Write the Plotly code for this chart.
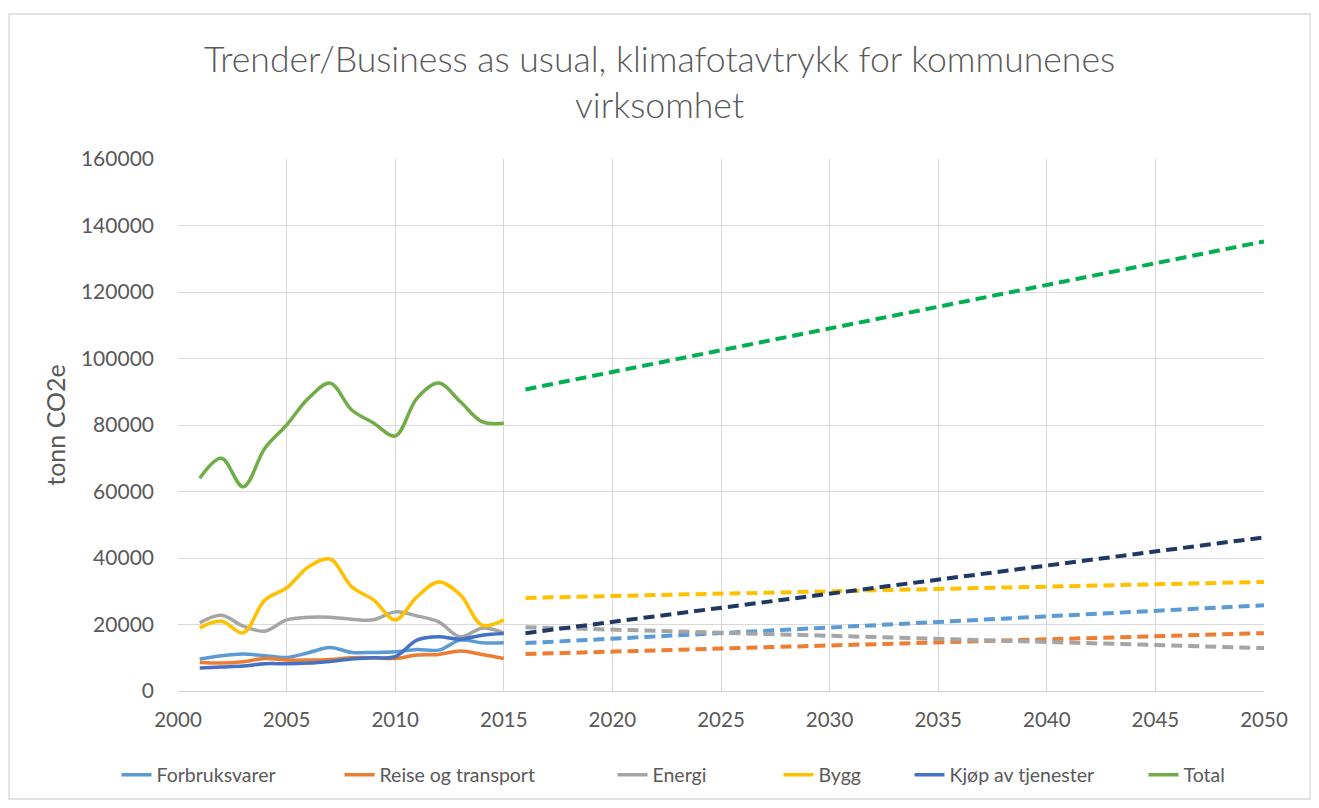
import plotly.graph_objects as go

years = list(range(2001, 2016))
forbruksvarer = [9600, 10600, 11100, 10600, 10100, 11500, 13100, 11600, 11600, 11800, 12500, 12300, 15300, 14500, 14500]
reise = [8600, 8400, 8800, 9800, 9300, 9300, 9500, 10000, 10000, 9800, 10800, 11000, 12000, 11000, 9800]
energi = [20500, 22800, 19500, 18000, 21400, 22200, 22200, 21600, 21400, 23800, 22600, 20800, 16300, 18900, 17500]
bygg = [19000, 21000, 17500, 27400, 31000, 37300, 39700, 31300, 27400, 21400, 28300, 32800, 28900, 19800, 21400]
kjop = [6900, 7200, 7500, 8200, 8200, 8400, 8900, 9600, 10000, 10300, 15300, 16300, 15600, 16800, 17300]
total = [64000, 70000, 61400, 73000, 80000, 88000, 92600, 84500, 80600, 76700, 88000, 92600, 87000, 81000, 80500]

proj_years = [2016, 2050]
proj_forbruksvarer = [14400, 25800]
proj_reise = [11100, 17400]
proj_energi = [19200, 12900]
proj_bygg = [28000, 32800]
proj_kjop = [17400, 46200]
proj_total = [90700, 135200]

names = ["Forbruksvarer", "Reise og transport", "Energi", "Bygg", "Kjøp av tjenester", "Total"]
colors = ["#5B9BD5", "#ED7D31", "#A5A5A5", "#FFC000", "#4472C4", "#70AD47"]
proj_colors = ["#5B9BD5", "#ED7D31", "#A5A5A5", "#FFC000", "#203864", "#00B050"]
hist = [forbruksvarer, reise, energi, bygg, kjop, total]
proj = [proj_forbruksvarer, proj_reise, proj_energi, proj_bygg, proj_kjop, proj_total]

# page x where each legend label text starts in the reference
legend_text_x = [157, 380, 653, 819, 950, 1184]

W, H = 1303, 792
L, R, T, B = 170, 47, 151, 109
PW = W - L - R
PH = H - T - B

font = "Lato, 'Open Sans', sans-serif"
fig = go.Figure()
legend_layouts = {}
for i, (n, c, v) in enumerate(zip(names, colors, hist)):
    key = "legend" if i == 0 else f"legend{i + 1}"
    fig.add_trace(go.Scatter(x=years, y=v, name=n, mode="lines", legend=key,
                             line=dict(color=c, width=3.5, shape="spline", smoothing=1)))
    lx = (legend_text_x[i] - 8 - 40.5 - L) / PW
    legend_layouts[key] = dict(orientation="h", x=lx, xanchor="left", xref="paper",
                               y=1 - 767 / H, yref="container", yanchor="middle",
                               font=dict(size=19.5, color="#595959", family=font),
                               bgcolor="rgba(0,0,0,0)", borderwidth=0)
for n, c, v in zip(names, proj_colors, proj):
    fig.add_trace(go.Scatter(x=proj_years, y=v, name=n + " trend", mode="lines",
                             showlegend=False,
                             line=dict(color=c, width=4, dash="11px,6px")))

fig.update_layout(
    width=W, height=H,
    paper_bgcolor="white", plot_bgcolor="white",
    margin=dict(l=L, r=R, t=T, b=B, autoexpand=False),
    font=dict(family=font, color="#595959", size=21),
    title=dict(text="Trender/Business as usual, klimafotavtrykk for kommunenes<br>virksomhet",
               x=0.5, xref="container", xanchor="center", y=1 - 63.5 / H, yref="container",
               yanchor="middle",
               font=dict(size=35.6, color="#595959", family=font, weight=300)),
    xaxis=dict(range=[2000, 2050], dtick=5, tick0=2000, showgrid=True, gridcolor="#D9D9D9",
               gridwidth=1.3, showline=True, linecolor="#D0D0D0", linewidth=1.3, zeroline=False,
               ticks="", ticklabelstandoff=10, tickfont=dict(size=20.5), tickformat="d",
               automargin=False),
    yaxis=dict(range=[0, 160000], dtick=20000, showgrid=True, gridcolor="#D9D9D9", gridwidth=1.3,
               zeroline=False, ticks="", ticklabelstandoff=23, tickfont=dict(size=21),
               tickformat="d", automargin=False,
               title=dict(text="tonn CO2e", font=dict(size=25), standoff=8)),
    showlegend=True,
    **legend_layouts,
)
fig.add_shape(type="rect", xref="paper", yref="paper",
              x0=(1 - L) / PW, x1=(1302 - L) / PW,
              y0=((H - B) - 791) / PH, y1=((H - B) - 6) / PH,
              line=dict(color="#D9D9D9", width=1.3), fillcolor="rgba(0,0,0,0)", layer="below")
fig.write_html("out.html")
